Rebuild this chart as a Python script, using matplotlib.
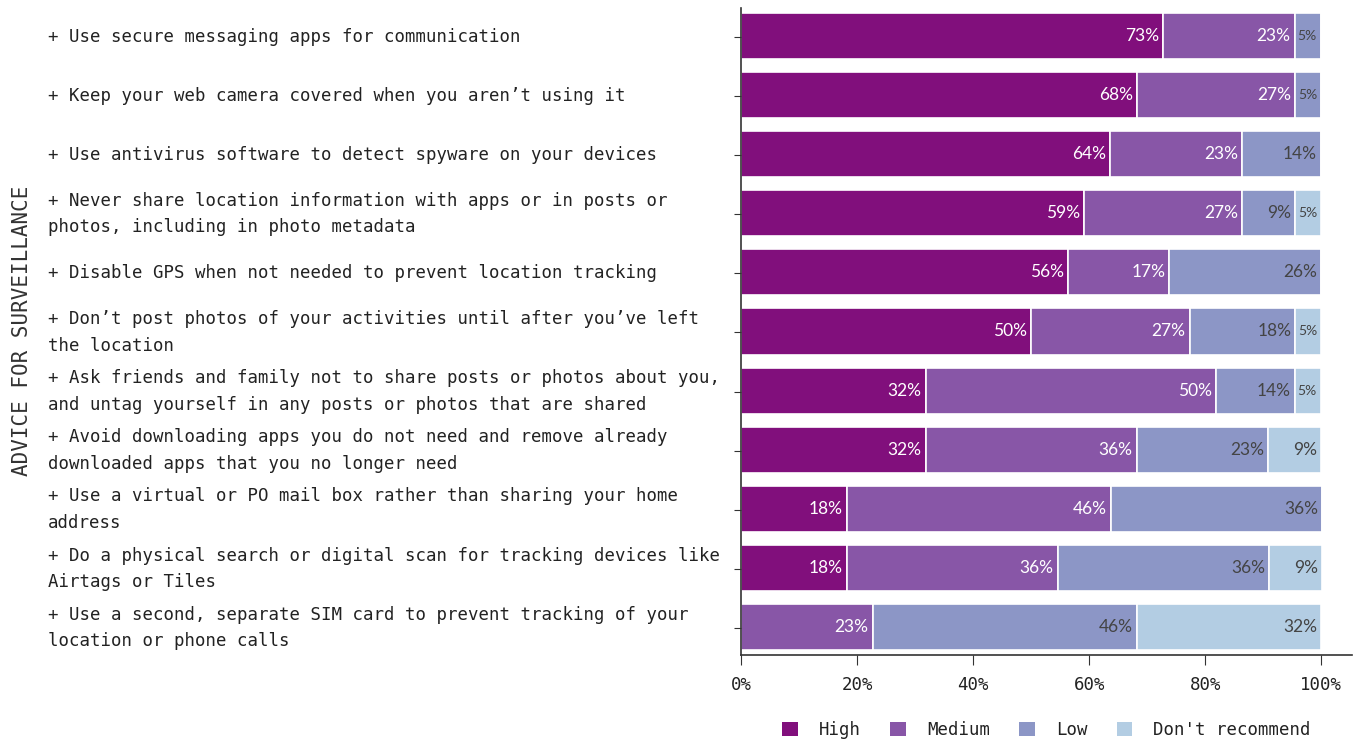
import matplotlib
matplotlib.use("Agg")
import matplotlib.pyplot as plt
from matplotlib.patches import Patch
from matplotlib.ticker import FuncFormatter
import numpy as np

plt.rcParams['font.family'] = ['DejaVu Sans Mono']

advice = [
    "+ Use secure messaging apps for communication",
    "+ Keep your web camera covered when you aren\u2019t using it",
    "+ Use antivirus software to detect spyware on your devices",
    "+ Never share location information with apps or in posts or\nphotos, including in photo metadata",
    "+ Disable GPS when not needed to prevent location tracking",
    "+ Don\u2019t post photos of your activities until after you\u2019ve left\nthe location",
    "+ Ask friends and family not to share posts or photos about you,\nand untag yourself in any posts or photos that are shared",
    "+ Avoid downloading apps you do not need and remove already\ndownloaded apps that you no longer need",
    "+ Use a virtual or PO mail box rather than sharing your home\naddress",
    "+ Do a physical search or digital scan for tracking devices like\nAirtags or Tiles",
    "+ Use a second, separate SIM card to prevent tracking of your\nlocation or phone calls",
]

# share of respondents (%) per rating
high = [72.7, 68.2, 63.6, 59.1, 56.4, 50.0, 31.8, 31.8, 18.2, 18.2, 0.0]
medium = [22.7, 27.3, 22.7, 27.3, 17.4, 27.3, 50.0, 36.4, 45.5, 36.4, 22.7]
low = [4.5, 4.5, 13.6, 9.1, 26.2, 18.2, 13.6, 22.7, 36.4, 36.4, 45.5]
dont = [0.0, 0.0, 0.0, 4.5, 0.0, 4.5, 4.5, 9.1, 0.0, 9.1, 31.8]

levels = ["High", "Medium", "Low", "Don't recommend"]
colors = ["#810f7c", "#8856a7", "#8c96c6", "#b3cde3"]
text_colors = ["white", "white", "#444444", "#444444"]

pct = np.array([high, medium, low, dont])

fig = plt.figure(figsize=(13.53, 7.42), dpi=100)
ax = fig.add_axes([0.5477, 0.1173, 0.4516, 0.8719])

y = np.arange(len(advice))
left = np.zeros(len(advice))
for i, lvl in enumerate(levels):
    ax.barh(y, pct[i], left=left, height=0.78, color=colors[i],
            edgecolor="white", linewidth=1.2, label=lvl)
    for j, v in enumerate(pct[i]):
        if v <= 0:
            continue
        small = v < 6
        ax.text(left[j] + v - 0.7, y[j], f"{int(v + 0.5)}%", ha="right", va="center",
                color=text_colors[i], fontsize=10 if small else 12.5,
                family="Lato")
    left += pct[i]

ax.set_ylim(len(advice) - 0.53, -0.47)
ax.set_xlim(0, 105.3)
ax.set_xticks([0, 20, 40, 60, 80, 100])
ax.xaxis.set_major_formatter(FuncFormatter(lambda v, p: f"{v:.0f}%"))

ax.set_yticks(y + 0.015)
ax.set_yticklabels(advice, fontsize=12.5, linespacing=1.62)
for lab in ax.get_yticklabels():
    lab.set_horizontalalignment("left")
    lab.set_verticalalignment("center")
    lab.set_multialignment("left")
ax.tick_params(axis="y", length=5, pad=494, color="#333333", labelcolor="#222222")
ax.tick_params(axis="x", length=7, pad=8, labelsize=12.5, color="#333333", labelcolor="#222222")

for s in ["top", "right"]:
    ax.spines[s].set_visible(False)
for s in ["left", "bottom"]:
    ax.spines[s].set_color("#333333")
    ax.spines[s].set_linewidth(1.2)

fig.text(22 / 1353, 1 - 331 / 742, "ADVICE FOR SURVEILLANCE", rotation=90,
         ha="center", va="center", fontsize=15, color="#333333")

handles = [Patch(facecolor=c, edgecolor="none") for c in colors]
ax.legend(handles, levels, loc="center", bbox_to_anchor=(0.5, -0.116), ncol=4,
          frameon=False, fontsize=12.5, handlelength=0.9, handleheight=0.9,
          handletextpad=1.2, columnspacing=1.7, labelcolor="#222222")

fig.savefig("out.png", dpi=100)
